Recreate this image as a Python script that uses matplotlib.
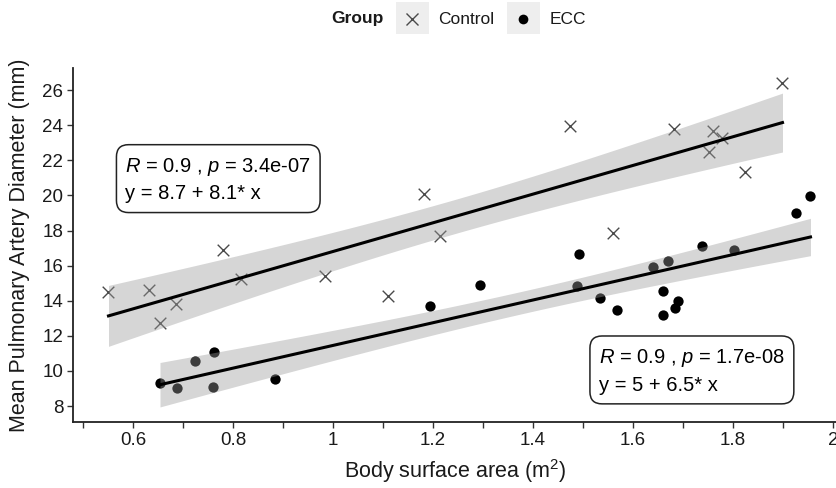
import numpy as np
import matplotlib
matplotlib.use("Agg")
import matplotlib.pyplot as plt
from matplotlib.patches import Rectangle
from matplotlib.lines import Line2D

plt.rcParams['font.family'] = ['Liberation Sans', 'DejaVu Sans']
plt.rcParams['mathtext.fontset'] = 'custom'
plt.rcParams['mathtext.rm'] = 'Liberation Sans'
plt.rcParams['mathtext.it'] = 'Liberation Sans:italic'

# ---- data ----
control_bsa = [0.551, 0.633, 0.654, 0.687, 0.781, 0.817, 0.984, 1.111, 1.183,
               1.214, 1.475, 1.561, 1.683, 1.753, 1.761, 1.778, 1.825, 1.899]
control_mpa = [14.48, 14.63, 12.72, 13.81, 16.87, 15.26, 15.43, 14.29, 20.10,
               17.67, 23.96, 17.87, 23.77, 22.50, 23.67, 23.30, 21.33, 26.38]
ecc_bsa = [0.654, 0.689, 0.724, 0.761, 0.762, 0.884, 1.195, 1.295, 1.489, 1.493,
           1.535, 1.568, 1.641, 1.660, 1.660, 1.671, 1.685, 1.691, 1.738, 1.803,
           1.927, 1.955]
ecc_mpa = [9.33, 9.01, 10.57, 9.10, 11.09, 9.52, 13.68, 14.91, 14.82, 16.65,
           14.15, 13.45, 15.93, 14.57, 13.20, 16.29, 13.58, 13.96, 17.14, 16.91,
           19.01, 19.96]
group_names = ["Control", "ECC"]
label_control = ["$\\it{R}$ = 0.9 , $\\it{p}$ = 3.4e-07", "y = 8.7 + 8.1* x"]
label_ecc = ["$\\it{R}$ = 0.9 , $\\it{p}$ = 1.7e-08", "y = 5 + 6.5* x"]
x_ticks = [0.5, 0.6, 0.7, 0.8, 0.9, 1.0, 1.1, 1.2, 1.3, 1.4, 1.5, 1.6, 1.7, 1.8, 1.9, 2.0]
x_ticklabels = ["", "0.6", "", "0.8", "", "1", "", "1.2", "", "1.4", "", "1.6", "", "1.8", "", "2"]
y_ticks = [8, 10, 12, 14, 16, 18, 20, 22, 24, 26]


def t975(df):
    z = 1.959964
    return (z + (z**3 + z) / (4 * df)
            + (5 * z**5 + 16 * z**3 + 3 * z) / (96 * df**2)
            + (3 * z**7 + 19 * z**5 + 17 * z**3 - 15 * z) / (384 * df**3))


def lm_band(x, y, n_grid=80):
    x = np.asarray(x, float)
    y = np.asarray(y, float)
    n = len(x)
    b1, b0 = np.polyfit(x, y, 1)
    resid = y - (b0 + b1 * x)
    s = np.sqrt(np.sum(resid**2) / (n - 2))
    xg = np.linspace(x.min(), x.max(), n_grid)
    yg = b0 + b1 * xg
    se = s * np.sqrt(1 / n + (xg - x.mean())**2 / np.sum((x - x.mean())**2))
    t = t975(n - 2)
    return xg, yg, yg - t * se, yg + t * se


W, H = 837, 488
fig = plt.figure(figsize=(W / 100, H / 100), dpi=100)
ax = fig.add_axes([73 / W, (H - 422) / H, (W - 73) / W, (422 - 68) / H])

ax.scatter(control_bsa, control_mpa, marker='x', s=70, c='#4a4a4a', linewidths=1.0, zorder=2)
ax.scatter(ecc_bsa, ecc_mpa, marker='o', s=55, c='black', linewidths=0, zorder=2)

for xs, ys in [(control_bsa, control_mpa), (ecc_bsa, ecc_mpa)]:
    xg, yg, lo, hi = lm_band(xs, ys)
    ax.fill_between(xg, lo, hi, color='#999999', alpha=0.4, linewidth=0, zorder=3)
    ax.plot(xg, yg, color='black', linewidth=2.2, zorder=4)

box = dict(boxstyle='round,pad=0.45,rounding_size=0.6', facecolor='white',
           edgecolor='#222222', linewidth=1.1)
ax.text(0.585, 20.9, "\n".join(label_control), fontsize=14.5, ha='left', va='center',
        linespacing=1.45, bbox=box, zorder=6)
ax.text(1.532, 10.0, "\n".join(label_ecc), fontsize=14.5, ha='left', va='center',
        linespacing=1.45, bbox=box, zorder=6)

ax.set_xlim(0.48, 2.008)
ax.set_ylim(7.09, 27.26)
ax.set_xticks(x_ticks)
ax.set_xticklabels(x_ticklabels)
ax.set_yticks(y_ticks)
ax.tick_params(axis='both', direction='out', length=4, width=1.0, color='#333333',
               labelsize=13.5, labelcolor='#1a1a1a', pad=3)
for side in ['top', 'right']:
    ax.spines[side].set_visible(False)
for side in ['left', 'bottom']:
    ax.spines[side].set_linewidth(1.3)
    ax.spines[side].set_color('#222222')

ax.set_xlabel("Body surface area (m$^2$)", fontsize=15.5, color='#1a1a1a', labelpad=6)
ax.set_ylabel("Mean Pulmonary Artery Diameter (mm)", fontsize=15.5, color='#1a1a1a', labelpad=9)

# ---- legend (top) ----
ly = (H - 19) / H
fig.text(331 / W, ly, "Group", fontsize=12.5, fontweight='bold', ha='left', va='center',
         color='#1a1a1a')
for kx, name, mk, tx in [(396, group_names[0], 'x', 438), (507, group_names[1], 'o', 550)]:
    fig.add_artist(Rectangle((kx / W, (H - 34) / H), 33 / W, 32 / H,
                             transform=fig.transFigure, facecolor='#eeeeee', edgecolor='none'))
    if mk == 'x':
        fig.add_artist(Line2D([(kx + 16.5) / W], [ly], marker='x', markersize=9,
                              color='#4a4a4a', markeredgewidth=1.0, linestyle='none',
                              transform=fig.transFigure))
    else:
        fig.add_artist(Line2D([(kx + 16.5) / W], [ly], marker='o', markersize=7,
                              color='black', markeredgewidth=0, linestyle='none',
                              transform=fig.transFigure))
    fig.text(tx / W, ly, name, fontsize=12.5, ha='left', va='center', color='#1a1a1a')

fig.savefig("out.png", dpi=100)
